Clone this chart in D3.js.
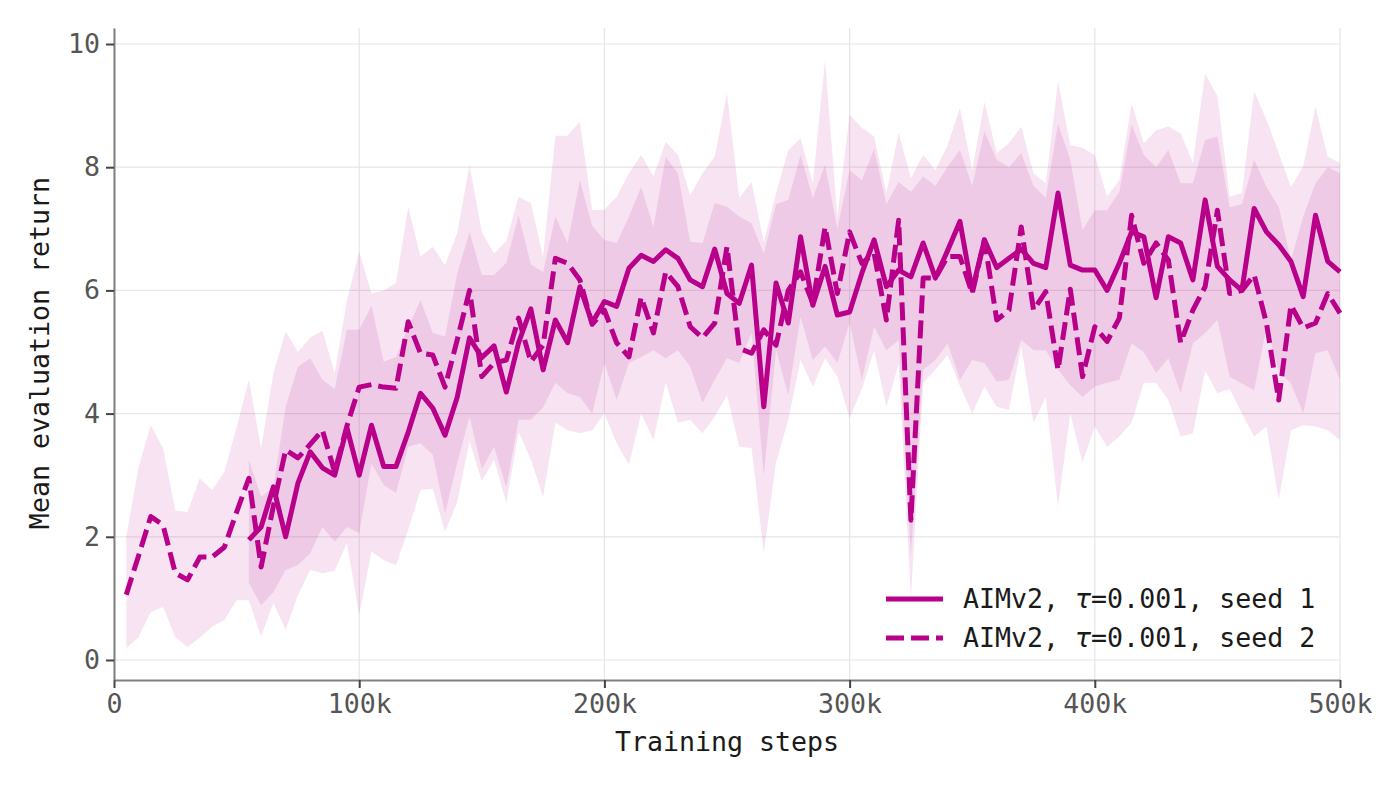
<!DOCTYPE html>
<html>
<head>
<meta charset="utf-8">
<script src="https://cdn.jsdelivr.net/npm/d3@7"></script>
<style>
  body { margin: 0; background: #fff; }
  svg { display: block; font-family: "DejaVu Sans Mono", monospace; }
</style>
</head>
<body>
<svg id="chart" width="1400" height="787"></svg>
<script>
// Evaluation every 5k steps, 5k..500k
const steps = d3.range(1, 101).map(i => i * 5000);
const seed1Start = 10; // seed 1 begins at 55k

// seed 2 (dashed), 5k..500k
const seed2 = [
  1.06, 1.69, 2.33, 2.19, 1.41, 1.30, 1.67, 1.67, 1.83, 2.40,
  2.95, 1.51, 2.50, 3.41, 3.28, 3.50, 3.73, 3.05, 3.80, 4.43,
  4.47, 4.43, 4.41, 5.49, 4.98, 4.95, 4.43, 5.20, 6.00, 4.60,
  4.82, 4.87, 5.55, 4.84, 5.11, 6.52, 6.44, 6.17, 5.45, 5.68,
  5.15, 4.92, 5.89, 5.31, 6.30, 6.06, 5.41, 5.23, 5.47, 6.71,
  5.06, 4.98, 5.36, 5.11, 6.00, 6.30, 5.79, 7.03, 5.95, 6.95,
  6.44, 6.60, 5.52, 7.14, 2.27, 6.20, 6.20, 6.55, 6.55, 5.95,
  6.82, 5.52, 5.68, 7.03, 5.68, 5.98, 4.71, 6.02, 4.60, 5.41,
  5.17, 5.55, 7.22, 6.44, 6.77, 6.49, 5.15, 5.68, 6.06, 7.30,
  5.95, 6.00, 6.25, 5.47, 4.22, 5.76, 5.39, 5.47, 5.95, 5.63
];
const upper2 = [
  2.00, 3.13, 3.81, 3.44, 2.43, 2.40, 2.95, 2.76, 3.05, 3.78,
  4.55, 3.44, 4.66, 5.33, 5.00, 5.23, 5.35, 4.66, 5.84, 6.63,
  5.95, 6.00, 6.12, 7.36, 6.55, 6.71, 6.41, 6.93, 8.04, 6.95,
  6.60, 6.80, 7.52, 7.42, 6.55, 8.51, 8.51, 8.74, 7.30, 7.31,
  7.52, 7.90, 8.20, 7.85, 8.41, 8.20, 7.55, 7.90, 8.17, 9.20,
  7.50, 7.76, 6.79, 7.58, 8.28, 8.47, 7.74, 9.74, 7.20, 8.85,
  8.64, 8.50, 7.58, 8.56, 7.82, 8.20, 7.95, 8.36, 8.96, 7.95,
  9.06, 8.23, 8.39, 8.66, 7.90, 7.74, 9.39, 8.36, 8.31, 8.20,
  7.52, 7.79, 9.04, 8.39, 8.60, 8.66, 8.55, 8.07, 9.52, 9.15,
  7.52, 7.58, 9.23, 8.77, 8.23, 7.68, 8.01, 8.98, 8.17, 8.07
];
const lower2 = [
  0.19, 0.37, 0.78, 0.86, 0.37, 0.21, 0.36, 0.54, 0.65, 0.97,
  0.97, 0.38, 0.93, 0.49, 1.05, 1.46, 1.41, 1.45, 1.90, 0.73,
  1.76, 1.62, 1.54, 2.11, 2.76, 2.78, 2.08, 2.57, 3.55, 2.90,
  3.25, 2.55, 3.70, 3.25, 2.65, 3.85, 3.73, 3.68, 3.73, 4.00,
  3.52, 3.17, 4.00, 3.57, 4.50, 3.85, 3.90, 3.68, 3.95, 4.30,
  3.46, 3.44, 1.75, 3.20, 3.90, 4.87, 4.44, 4.90, 4.60, 3.93,
  4.40, 5.03, 4.11, 4.80, 1.00, 4.50, 4.71, 4.95, 4.45, 4.00,
  4.44, 4.11, 4.06, 5.09, 3.85, 4.27, 2.49, 4.00, 3.20, 3.79,
  3.46, 3.63, 3.85, 4.50, 4.50, 4.22, 3.63, 3.68, 4.70, 4.33,
  4.40, 4.00, 3.63, 3.79, 2.60, 3.73, 3.81, 3.79, 3.73, 3.57
];

// seed 1 (solid), 55k..500k
const seed1 = [
  1.95, 2.16, 2.81, 2.00, 2.87, 3.38, 3.12, 3.00, 3.77, 3.00,
  3.81, 3.14, 3.14, 3.70, 4.33, 4.09, 3.65, 4.27, 5.23, 4.91,
  5.10, 4.35, 5.15, 5.70, 4.71, 5.52, 5.15, 6.06, 5.47, 5.82,
  5.74, 6.36, 6.57, 6.47, 6.66, 6.52, 6.17, 6.06, 6.67, 5.95,
  5.79, 6.41, 4.11, 6.12, 5.47, 6.87, 5.76, 6.39, 5.60, 5.65,
  6.28, 6.82, 6.06, 6.33, 6.22, 6.77, 6.20, 6.65, 7.12, 6.00,
  6.82, 6.37, 6.52, 6.67, 6.44, 6.37, 7.58, 6.41, 6.33, 6.33,
  6.00, 6.44, 6.95, 6.87, 5.88, 6.87, 6.77, 6.17, 7.47, 6.39,
  6.17, 6.00, 7.33, 6.95, 6.74, 6.47, 5.90, 7.22, 6.47, 6.30
];
const upper1 = [
  3.25, 2.65, 2.81, 4.11, 4.76, 4.90, 4.55, 4.40, 5.36, 5.36,
  5.75, 4.84, 4.92, 5.40, 5.84, 5.31, 5.25, 6.28, 6.95, 6.25,
  6.25, 6.45, 7.22, 6.42, 6.30, 7.20, 6.77, 7.79, 7.05, 6.82,
  6.77, 7.20, 7.68, 7.03, 8.17, 7.90, 6.79, 6.77, 7.42, 7.36,
  7.20, 7.09, 6.60, 7.40, 7.47, 8.20, 7.50, 8.04, 7.00, 7.95,
  7.79, 8.30, 7.40, 7.76, 7.60, 7.85, 7.70, 8.01, 8.28, 7.70,
  8.58, 8.12, 8.00, 8.23, 7.70, 7.50, 8.71, 8.12, 6.98, 7.30,
  7.30, 7.60, 8.69, 8.20, 8.00, 8.28, 7.74, 7.74, 8.44, 8.50,
  7.35, 7.40, 8.12, 7.68, 7.36, 6.49, 7.20, 7.74, 8.00, 7.90
];
const lower1 = [
  1.25, 0.89, 1.10, 1.46, 1.54, 1.73, 2.16, 1.92, 2.16, 2.06,
  3.19, 2.84, 2.71, 3.46, 3.52, 3.33, 2.38, 3.20, 3.95, 3.10,
  3.46, 2.80, 3.90, 3.90, 4.10, 4.50, 4.33, 4.27, 4.00, 4.82,
  4.22, 4.82, 4.92, 5.03, 4.90, 5.03, 4.76, 4.17, 4.55, 4.90,
  4.82, 5.31, 3.00, 5.03, 4.30, 5.57, 4.87, 5.09, 4.82, 5.47,
  4.55, 5.41, 5.03, 5.19, 1.70, 4.71, 4.87, 5.14, 4.55, 4.87,
  4.82, 4.52, 4.55, 5.20, 5.03, 5.03, 4.71, 4.46, 4.27, 4.44,
  4.50, 4.55, 5.14, 5.00, 4.66, 4.90, 4.33, 5.14, 5.31, 5.52,
  4.60, 4.49, 4.38, 5.41, 4.70, 4.49, 4.00, 4.98, 5.03, 4.55
];

const xTicks = [0, 100000, 200000, 300000, 400000, 500000];
const yTicks = [0, 2, 4, 6, 8, 10];
const legendLabels = ["seed 1", "seed 2"];

const color = "#b8008a";
const fontSize = "26.6px";
const svg = d3.select("#chart");

const x = d3.scaleLinear().domain([0, 500000]).range([114, 1340]);
const y = d3.scaleLinear().domain([-0.325, 10.26]).range([680, 28]);

// grid
const grid = svg.append("g");
grid.selectAll("line.gx").data(xTicks).join("line")
  .attr("x1", d => x(d)).attr("x2", d => x(d))
  .attr("y1", 28).attr("y2", 680)
  .attr("stroke", "#e6e6e6").attr("stroke-width", 1.2);
grid.selectAll("line.gy").data(yTicks).join("line")
  .attr("x1", 114).attr("x2", 1340)
  .attr("y1", d => y(d)).attr("y2", d => y(d))
  .attr("stroke", "#e6e6e6").attr("stroke-width", 1.2);

// build point rows
const rows2 = steps.map((s, i) => ({ s, v: seed2[i], lo: lower2[i], hi: upper2[i] }));
const rows1 = steps.slice(seed1Start).map((s, i) => ({ s, v: seed1[i], lo: lower1[i], hi: upper1[i] }));

const area = d3.area().x(d => x(d.s)).y0(d => y(d.lo)).y1(d => y(d.hi));
const line = d3.line().x(d => x(d.s)).y(d => y(d.v));

svg.append("path").datum(rows1).attr("d", area)
  .attr("fill", color).attr("fill-opacity", 0.11);
svg.append("path").datum(rows2).attr("d", area)
  .attr("fill", color).attr("fill-opacity", 0.11);

svg.append("path").datum(rows1).attr("d", line)
  .attr("fill", "none").attr("stroke", color).attr("stroke-width", 5)
  .attr("stroke-linejoin", "round");
svg.append("path").datum(rows2).attr("d", line)
  .attr("fill", "none").attr("stroke", color).attr("stroke-width", 5)
  .attr("stroke-dasharray", "18,7").attr("stroke-linejoin", "round");

// axes
const xAxis = svg.append("g").attr("transform", "translate(0,680)")
  .call(d3.axisBottom(x).tickValues(xTicks).tickSize(8).tickSizeOuter(0).tickPadding(6)
    .tickFormat(d => d === 0 ? "0" : (d / 1000) + "k"));
const yAxis = svg.append("g").attr("transform", "translate(114,0)")
  .call(d3.axisLeft(y).tickValues(yTicks).tickSize(8).tickSizeOuter(0).tickPadding(6));

[xAxis, yAxis].forEach(g => {
  g.select(".domain").attr("stroke", "#808080").attr("stroke-width", 2);
  g.selectAll(".tick line").attr("stroke", "#444").attr("stroke-width", 2);
  g.selectAll(".tick text").attr("fill", "#555").style("font-size", fontSize)
    .style("font-family", "DejaVu Sans Mono");
});

svg.append("text").attr("x", 727).attr("y", 751).attr("text-anchor", "middle")
  .attr("fill", "#1a1a1a").style("font-size", fontSize).text("Training steps");
svg.append("text").attr("transform", "translate(49,353) rotate(-90)")
  .attr("text-anchor", "middle").attr("fill", "#1a1a1a").style("font-size", fontSize)
  .text("Mean evaluation return");

// legend
const leg = svg.append("g");
legendLabels.forEach((lab, i) => {
  const ly = 599 + i * 39;
  leg.append("line").attr("x1", 886).attr("x2", 943).attr("y1", ly).attr("y2", ly)
    .attr("stroke", color).attr("stroke-width", 5)
    .attr("stroke-dasharray", i === 1 ? "18,7" : null);
  const t = leg.append("text").attr("x", 963).attr("y", ly + 9)
    .attr("fill", "#1a1a1a").style("font-size", fontSize);
  t.append("tspan").text("AIMv2, ");
  t.append("tspan").style("font-family", "DejaVu Sans").style("font-style", "italic").text("τ");
  t.append("tspan").text("=0.001, " + lab);
});
</script>
</body>
</html>
